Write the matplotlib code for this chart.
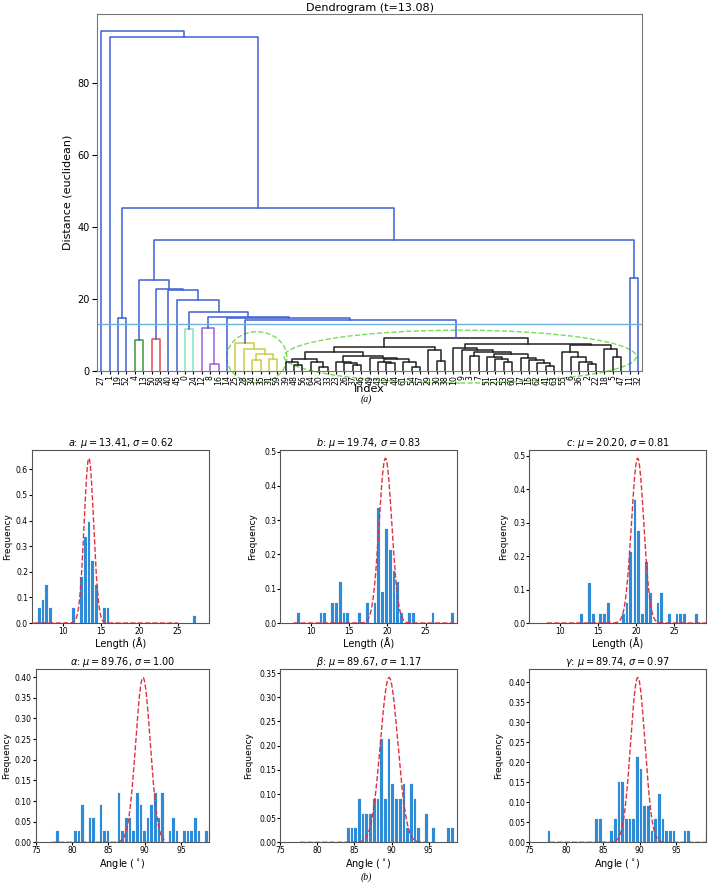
"""Dendrogram of unit-cell clusters plus per-parameter histograms with Gaussian fits."""

import numpy as np
import matplotlib

matplotlib.use("Agg")
import matplotlib.pyplot as plt
from matplotlib.patches import Ellipse

# ---------------------------------------------------------------- dendrogram data
# merge tree: (distance, left, right); ints are leaf indices
CUT_THRESHOLD = 13.08

YELLOW_CLUSTER = (7.9, 25, (6.0, 28, (4.6, (3.0, 34, 35), (3.3, 31, 59))))

BLACK_L12 = (3.43, (2.4, 39, (1.67, 48, 56)), (2.6, 64, (1.2, 20, 33)))
BLACK_M = (
    4.17,
    (2.6, 23, (2.15, 26, (1.57, 37, 46))),
    (3.7, 49, (3.24, (2.6, 43, (2.1, 42, 44)), (2.6, 61, (1.1, 54, 57)))),
)
BLACK_LEFT = (6.76, (5.28, BLACK_L12, BLACK_M), (5.83, 29, (2.8, 30, 38)))
BLACK_G = (
    4.6,
    (3.9, 51, (3.4, 21, (2.5, 53, 60))),
    (3.7, 17, (3.0, 15, (2.3, 62, (1.4, 41, 63)))),
)
BLACK_RL = (6.5, 10, (5.7, 9, (5.2, (4.2, 3, 7), BLACK_G)))
BLACK_RR = (7.3, (5.4, 55, (4.0, 6, (2.6, 36, (1.9, 2, 22)))), (6.0, 18, (4.0, 5, 47)))
BLACK_CLUSTER = (9.26, BLACK_LEFT, (7.6, BLACK_RL, BLACK_RR))

TREE = (
    94.5, 27,
    (92.8, 1,
     (45.3, (14.7, 19, 52),
      (36.4,
       (25.3, (8.5, 4, 13),
        (22.8, (8.8, 50, 58),
         (22.6, 40,
          (19.6, 45,
           (16.3, (11.7, 0, 24),
            (15.0, (11.9, 12, (2.0, 8, 16)),
             (14.7, 14, (14.25, YELLOW_CLUSTER, BLACK_CLUSTER)))))))),
       (25.9, 11, 32)))),
)

LINK_PALETTE = ["#3a9a3a", "#e8484f", "#80e3c4", "#9d5fe0", "#cccc44", "#222222"]
ABOVE_COLOR = "#3f5fd6"
CUT_COLOR = "#6fb0de"

# ---------------------------------------------------------------- histogram data
N_SAMPLES = 65
BIN_WIDTH = 0.5

a_centers = [6.85, 7.35, 7.85, 8.35, 11.35, 12.35, 12.85, 13.35, 13.85, 14.35, 15.35, 15.85, 27.1]
a_counts = [2, 3, 5, 2, 2, 6, 11, 13, 8, 5, 2, 2, 1]

b_centers = [8.25, 11.3, 11.75, 12.8, 13.3, 13.8, 14.3, 14.75, 16.3, 17.3, 18.3,
             18.75, 19.3, 19.8, 20.3, 20.8, 21.3, 21.8, 22.8, 23.3, 25.9, 28.4]
b_counts = [1, 1, 1, 2, 2, 4, 1, 1, 1, 2, 2, 11, 3, 9, 7, 5, 4, 1, 1, 1, 1, 1]

c_centers = [12.8, 13.8, 14.3, 15.3, 15.75, 16.3, 18.3, 18.75, 19.25, 19.8, 20.3,
             20.8, 21.3, 21.8, 22.8, 23.3, 24.3, 25.3, 25.8, 26.3, 27.8]
c_counts = [1, 4, 1, 1, 1, 2, 1, 2, 7, 12, 9, 1, 6, 3, 2, 3, 1, 1, 1, 1, 1]

alpha_centers = [77.9, 80.4, 80.9, 81.4, 82.4, 82.9, 83.9, 84.4, 84.9, 86.4, 86.9,
                 87.4, 87.9, 88.4, 88.9, 89.4, 89.9, 90.4, 90.9, 91.4, 91.9, 92.4,
                 93.4, 93.9, 94.4, 95.4, 95.9, 96.4, 96.9, 97.4, 98.4]
alpha_counts = [1, 1, 1, 3, 2, 2, 3, 1, 1, 4, 1, 2, 2, 1, 4, 3, 1, 2, 3, 4, 2, 4,
                1, 2, 1, 1, 1, 1, 2, 1, 1]

beta_centers = [84.1, 84.6, 85.1, 85.6, 86.1, 86.6, 87.1, 87.6, 88.1, 88.6, 89.1,
                89.6, 90.1, 90.6, 91.1, 91.6, 92.1, 92.6, 93.1, 93.6, 94.6, 95.6,
                97.6, 98.1]
beta_counts = [1, 1, 1, 3, 2, 2, 2, 3, 3, 7, 3, 7, 4, 3, 3, 4, 1, 4, 3, 1, 2, 1, 1, 1]

gamma_centers = [77.6, 84.1, 84.6, 86.1, 86.6, 87.1, 87.6, 88.1, 88.6, 89.1, 89.6,
                 90.1, 90.6, 91.1, 91.6, 92.1, 92.6, 93.1, 93.6, 94.1, 94.6, 96.1,
                 96.6, 99.1]
gamma_counts = [1, 2, 2, 1, 2, 5, 5, 2, 2, 2, 7, 6, 3, 3, 1, 2, 4, 2, 1, 1, 1, 1, 1, 1]

param_names = ["$a$", "$b$", "$c$", r"$\alpha$", r"$\beta$", r"$\gamma$"]
param_mu = [13.41, 19.74, 20.20, 89.76, 89.67, 89.74]
param_sigma = [0.62, 0.83, 0.81, 1.00, 1.17, 0.97]
fit_ranges = [(6.2, 25.0), (7.7, 28.6), (8.3, 29.2), (77.2, 92.7), (77.7, 94.7), (77.8, 99.0)]
x_limits = [(5.98, 29.1), (5.95, 29.1), (6.0, 29.2), (75, 98.85), (75, 98.8), (75, 99.05)]
ylabel_x = [-0.115, -0.13, -0.12, -0.145, -0.15, -0.15]


def _walk(node, order, links, color, palette):
    """Lay out the merge tree scipy-style, collecting one link per merge."""
    if isinstance(node, int):
        x = 5.0 + 10.0 * len(order)
        order.append(node)
        return x, 0.0
    height, left, right = node
    if color is None and height < CUT_THRESHOLD:
        color = palette.pop(0)
    xl, hl = _walk(left, order, links, color, palette)
    xr, hr = _walk(right, order, links, color, palette)
    links.append(([xl, xl, xr, xr], [hl, height, height, hr], color or ABOVE_COLOR))
    return 0.5 * (xl + xr), height


def draw_dendrogram(ax):
    order, links = [], []
    _walk(TREE, order, links, None, list(LINK_PALETTE))
    for xs, ys, color in links:
        ax.plot(xs, ys, color=color, lw=1.1)
    n = len(order)
    ax.set_xlim(0, 10 * n)
    ax.set_ylim(0, TREE[0] * 1.05)
    ax.set_xticks(5 + 10 * np.arange(n))
    ax.set_xticklabels([str(i) for i in order], rotation=90, fontsize=5.6)
    ax.axhline(CUT_THRESHOLD, color=CUT_COLOR, lw=1.0)
    ax.set_yticks([0, 20, 40, 60, 80])
    ax.tick_params(axis="y", labelsize=7, pad=2)
    ax.tick_params(axis="x", length=2, pad=1)
    ax.set_title(f"Dendrogram (t={CUT_THRESHOLD:.2f})", fontsize=8, pad=2)
    ax.set_ylabel("Distance (euclidean)", fontsize=8, labelpad=3)
    ax.set_xlabel("Index", fontsize=8, labelpad=-1)
    # dashed outlines around the two largest clusters
    for cx, cy, w, h in [(190.6, 3.8, 71.6, 14.2), (433.0, 4.0, 420.0, 14.7)]:
        ax.add_patch(Ellipse((cx, cy), w, h, fill=False, ls="--", lw=1.0,
                             color="#77dd55", clip_on=False))
    for spine in ax.spines.values():
        spine.set_color("#777777")


def draw_histogram(ax, centers, counts, idx, xlabel, yticks, fmt):
    freq = np.asarray(counts) / (N_SAMPLES * BIN_WIDTH)
    ax.bar(centers, freq, width=BIN_WIDTH, color="#2e8bd8", edgecolor="white", lw=0.6)
    mu, sigma = param_mu[idx], param_sigma[idx]
    x = np.linspace(*fit_ranges[idx], 300)
    pdf = np.exp(-0.5 * ((x - mu) / sigma) ** 2) / (sigma * np.sqrt(2 * np.pi))
    ax.plot(x, pdf, "--", color="#e0303f", lw=1.0)
    ax.set_xlim(*x_limits[idx])
    ax.set_ylim(0, max(pdf.max(), freq.max()) * 1.05)
    ax.set_yticks(yticks)
    ax.set_yticklabels([fmt.format(t) for t in yticks])
    ax.tick_params(labelsize=5.5, length=2, pad=0.8)
    ax.set_title(f"{param_names[idx]}: $\\mu = {mu:.2f}$, $\\sigma = {sigma:.2f}$",
                 fontsize=7, pad=3)
    ax.set_xlabel(xlabel, fontsize=7, labelpad=1)
    ax.set_ylabel("Frequency", fontsize=6.5)
    ax.yaxis.set_label_coords(ylabel_x[idx], 0.5)
    for spine in ax.spines.values():
        spine.set_color("#555555")


fig = plt.figure(figsize=(7.08, 8.85), dpi=100)

ax_dendro = fig.add_axes([0.137, 0.5808, 0.770, 0.4034])
draw_dendrogram(ax_dendro)

# left edges / widths per panel (bottom-left nudged right so its label fits)
lefts = [0.0452, 0.3955, 0.7476, 0.0505, 0.3955, 0.7476]
widths = [0.250, 0.250, 0.250, 0.2447, 0.250, 0.250]
height = 0.1955
hist_data = [(a_centers, a_counts), (b_centers, b_counts), (c_centers, c_counts),
             (alpha_centers, alpha_counts), (beta_centers, beta_counts),
             (gamma_centers, gamma_counts)]
len_ticks = [np.arange(0, 0.61, 0.1), np.arange(0, 0.51, 0.1), np.arange(0, 0.51, 0.1)]
ang_ticks = [np.arange(0, 0.41, 0.05), np.arange(0, 0.36, 0.05), np.arange(0, 0.41, 0.05)]

for i, (centers, counts) in enumerate(hist_data):
    row, col = divmod(i, 3)
    bottom = 0.296 if row == 0 else 0.0482
    ax = fig.add_axes([lefts[i], bottom, widths[i], height])
    if row == 0:
        draw_histogram(ax, centers, counts, i, "Length (Å)", len_ticks[col], "{:.1f}")
        ax.set_xticks([10, 15, 20, 25])
    else:
        draw_histogram(ax, centers, counts, i, r"Angle ($^\circ$)", ang_ticks[col], "{:.2f}")
        ax.set_xticks([75, 80, 85, 90, 95])

fig.text(0.518, 0.5485, "(a)", fontsize=7, style="italic", family="Liberation Serif",
         ha="center", va="center")
fig.text(0.518, 0.009, "(b)", fontsize=7, style="italic", family="Liberation Serif",
         ha="center", va="center")

fig.savefig("out.png", dpi=100)
plt.close(fig)
